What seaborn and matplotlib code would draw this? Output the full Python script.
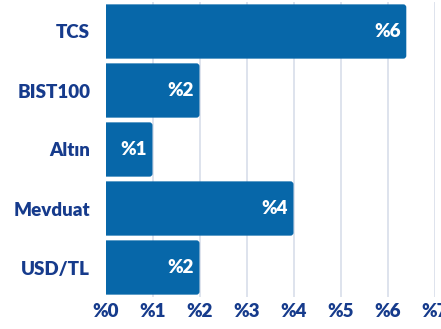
import matplotlib
matplotlib.use("Agg")
import matplotlib.pyplot as plt
import seaborn as sns
import pandas as pd
from matplotlib.patches import FancyBboxPatch

categories = ["TCS", "BIST100", "Altın", "Mevduat", "USD/TL"]
values = [6.4, 2.0, 1.0, 4.0, 2.0]
value_labels = ["%6", "%2", "%1", "%4", "%2"]
xticks = [0, 1, 2, 3, 4, 5, 6, 7]
xtick_labels = ["%0", "%1", "%2", "%3", "%4", "%5", "%6", "%7"]

bar_color = "#0767A9"
text_color = "#163B8C"
grid_color = "#D8DEEA"

sns.set_theme(style="white")
plt.rcParams["font.family"] = ["Lato", "DejaVu Sans"]

df = pd.DataFrame({"cat": categories, "val": values})

fig = plt.figure(figsize=(4.41, 3.29), dpi=100)
ax = fig.add_axes([105.5 / 441, 32 / 329, 329 / 441, 295 / 329])
sns.barplot(data=df, x="val", y="cat", orient="h", color=bar_color,
            width=0.92, ax=ax, saturation=1)

# replace rectangles by rounded boxes
px_x = 329 / 7.0
px_y = 295 / 5.0
r_x = 3.0 / px_x
aspect = (1 / px_y) / (1 / px_x)
for p in list(ax.patches):
    x0, y0 = p.get_x(), p.get_y()
    w, h = p.get_width(), p.get_height()
    fb = FancyBboxPatch((x0 - 0.2, y0), w + 0.2, h,
                        boxstyle=f"round,pad=0,rounding_size={r_x}",
                        mutation_aspect=aspect,
                        facecolor=bar_color, edgecolor="none", zorder=2)
    p.remove()
    ax.add_patch(fb)

for i, (v, lab) in enumerate(zip(values, value_labels)):
    ax.text(v - 5.5 / px_x, i, lab, ha="right", va="center", color="white",
            fontsize=13.5, fontweight="heavy", zorder=3)

ax.set_xlim(0, 7)
ax.set_ylim(4.5, -0.5)
ax.set_xticks(xticks)
ax.set_xticklabels(xtick_labels)
ax.set_xlabel("")
ax.set_ylabel("")
for x in xticks[1:]:
    ax.axvline(x, color=grid_color, lw=1.2, zorder=0)
for s in ax.spines.values():
    s.set_visible(False)
ax.tick_params(axis="y", length=0, pad=11, labelsize=13.5, labelcolor=text_color)
ax.tick_params(axis="x", length=0, pad=4, labelsize=13.5, labelcolor=text_color)
for t in ax.get_xticklabels() + ax.get_yticklabels():
    t.set_fontweight("heavy")
    t.set_clip_on(False)

fig.savefig("out.png", dpi=100)
